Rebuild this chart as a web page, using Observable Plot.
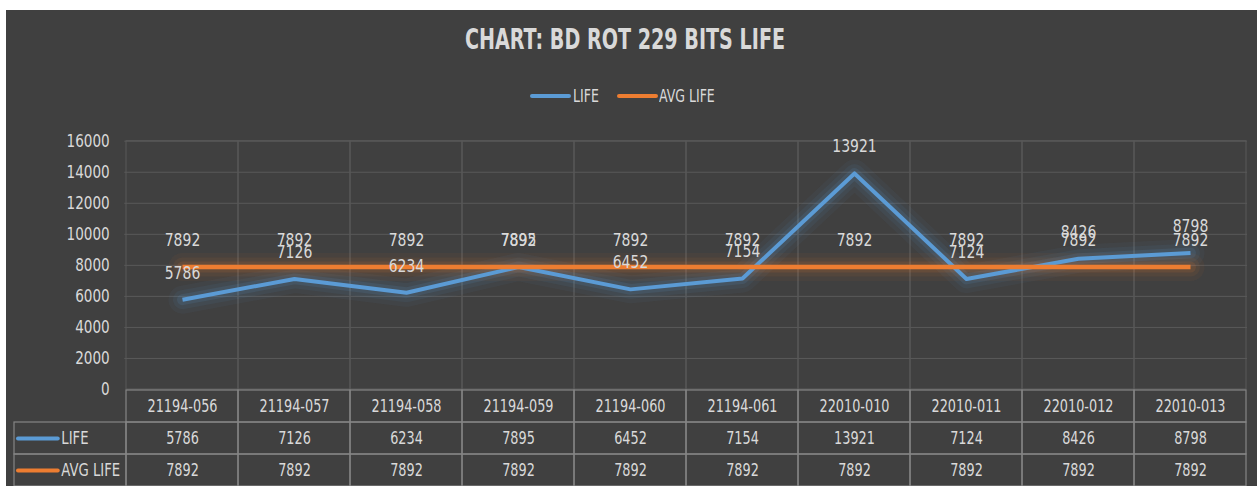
<!DOCTYPE html>
<html>
<head>
<meta charset="utf-8">
<script src="https://cdn.jsdelivr.net/npm/d3@7"></script>
<script src="https://cdn.jsdelivr.net/npm/@observablehq/plot@0.6"></script>
<style>
  html, body { margin: 0; padding: 0; background: #ffffff; }
  body { width: 1257px; height: 486px; position: relative; overflow: hidden;
         font-family: "DejaVu Sans Condensed", "DejaVu Sans", sans-serif; }
  #bg { position: absolute; left: 6px; top: 10px; right: 0; bottom: 0; background: #404040; }
  #title { position: absolute; left: 0; width: 1250px; top: 23px; text-align: center;
           color: #d9d9d9; font-weight: bold; font-size: 28px; line-height: 34px;
           transform: scaleX(0.76); transform-origin: 625px 0; }
  .sw { position: absolute; height: 4px; border-radius: 2px; top: 94px; }
  .lt { position: absolute; top: 86px; line-height: 20px; color: #d9d9d9; font-size: 17px;
        transform: scaleX(0.82); transform-origin: 0 0; white-space: nowrap; }
  #chart { position: absolute; left: 0; top: 120px; }
  #table { position: absolute; left: 0; top: 388px; }
</style>
</head>
<body>
<div id="bg"></div>
<div id="title"></div>
<div id="legend"></div>
<div id="chart"></div>
<div id="table"></div>
<script>
const titleText = "CHART: BD ROT 229 BITS LIFE";
const categories = ["21194-056","21194-057","21194-058","21194-059","21194-060","21194-061","22010-010","22010-011","22010-012","22010-013"];
const life = [5786, 7126, 6234, 7895, 6452, 7154, 13921, 7124, 8426, 8798];
const avgLife = [7892, 7892, 7892, 7892, 7892, 7892, 7892, 7892, 7892, 7892];
const yTicks = [0, 2000, 4000, 6000, 8000, 10000, 12000, 14000, 16000];
const seriesNames = ["LIFE", "AVG LIFE"];
const seriesColors = ["#5b9bd5", "#ed7d31"];

const FONT = '"DejaVu Sans Condensed", "DejaVu Sans", sans-serif';
const TXT = "#d9d9d9";
const GRID = "#595959";
const BORDER = "#858585";
const SX = 0.84;

document.getElementById("title").textContent = titleText;
const leg = document.getElementById("legend");
const legPos = [{sw: 530, tx: 573}, {sw: 617, tx: 659}];
seriesNames.forEach((n, i) => {
  const sw = document.createElement("div"); sw.className = "sw";
  sw.style.left = legPos[i].sw + "px"; sw.style.width = "41px"; sw.style.background = seriesColors[i];
  const t = document.createElement("div"); t.className = "lt";
  t.style.left = legPos[i].tx + "px"; t.textContent = n;
  leg.appendChild(sw); leg.appendChild(t);
});

function narrowText(svg, s) {
  svg.querySelectorAll("text").forEach(t => {
    const tr = t.getAttribute("transform");
    if (tr) t.setAttribute("transform", tr + ` scale(${s},1)`);
    else {
      const x = +(t.getAttribute("x") || 0);
      t.setAttribute("transform", `translate(${x},0) scale(${s},1) translate(${-x},0)`);
    }
  });
}

const lifeData = categories.map((c, i) => ({cat: c, v: life[i]}));
const avgData = categories.map((c, i) => ({cat: c, v: avgLife[i]}));

const LEGKEY = " ";
const tableX = [LEGKEY, ...categories];
const bandW = (1247 - 12) / tableX.length;
const chartLeft = 12 + bandW;

function glow(data, color) {
  return [
    Plot.line(data, {x: "cat", y: "v", stroke: color, strokeWidth: 28, strokeOpacity: 0.05}),
    Plot.line(data, {x: "cat", y: "v", stroke: color, strokeWidth: 19, strokeOpacity: 0.07}),
    Plot.line(data, {x: "cat", y: "v", stroke: color, strokeWidth: 11, strokeOpacity: 0.12})
  ];
}

const chart = Plot.plot({
  width: 1257, height: 281,
  marginLeft: chartLeft, marginRight: 10, marginTop: 20.7, marginBottom: 12,
  style: {background: "transparent", color: TXT, fontFamily: FONT, fontSize: "18px", overflow: "visible"},
  x: {type: "band", domain: categories, padding: 0, axis: null},
  y: {domain: [0, 16000], ticks: yTicks, tickSize: 0, tickPadding: 15, label: null, tickFormat: d => String(d)},
  marks: [
    Plot.ruleY(yTicks.filter(d => d > 0), {stroke: GRID, strokeWidth: 1}),
    Plot.cell(categories, {x: d => d, fill: "none", stroke: GRID, strokeWidth: 1}),
    ...glow(lifeData, seriesColors[0]),
    ...glow(avgData, seriesColors[1]),
    Plot.line(lifeData, {x: "cat", y: "v", stroke: seriesColors[0], strokeWidth: 4, strokeLinecap: "butt"}),
    Plot.line(avgData, {x: "cat", y: "v", stroke: seriesColors[1], strokeWidth: 4.5, strokeLinecap: "butt"}),
    Plot.text(lifeData, {x: "cat", y: "v", text: d => String(d.v), dy: -27, fill: TXT, fontSize: 18.5}),
    Plot.text(avgData, {x: "cat", y: "v", text: d => String(d.v), dy: -27, fill: TXT, fontSize: 18.5})
  ]
});
narrowText(chart, SX);
document.getElementById("chart").appendChild(chart);

const rows = ["header", ...seriesNames];
const cells = [];
categories.forEach((c, i) => {
  cells.push({x: c, row: "header", text: c});
  cells.push({x: c, row: seriesNames[0], text: String(life[i])});
  cells.push({x: c, row: seriesNames[1], text: String(avgLife[i])});
});
const legendCells = seriesNames.map((n, i) => ({x: LEGKEY, row: n, text: n, color: seriesColors[i]}));

const table = Plot.plot({
  width: 1257, height: 99,
  marginLeft: 12, marginRight: 10, marginTop: 1, marginBottom: 1,
  style: {background: "transparent", color: TXT, fontFamily: FONT, fontSize: "17px", overflow: "visible"},
  x: {type: "band", domain: tableX, padding: 0, axis: null},
  y: {type: "band", domain: rows, padding: 0, axis: null},
  marks: [
    Plot.cell(cells, {x: "x", y: "row", fill: "none", stroke: BORDER, strokeWidth: 1.2}),
    Plot.cell(legendCells, {x: "x", y: "row", fill: "none", stroke: BORDER, strokeWidth: 1.2}),
    Plot.tickY(legendCells, {x: "x", y: "row", stroke: "color", strokeWidth: 4, insetLeft: 4, insetRight: bandW - 44, strokeLinecap: "round"}),
    Plot.text(legendCells, {x: "x", y: "row", text: "text", textAnchor: "start", dx: 47 - bandW / 2, fill: TXT, fontSize: 17.5}),
    Plot.text(cells, {x: "x", y: "row", text: "text", fill: TXT, fontSize: 17})
  ]
});
narrowText(table, SX);
document.getElementById("table").appendChild(table);
</script>
</body>
</html>
